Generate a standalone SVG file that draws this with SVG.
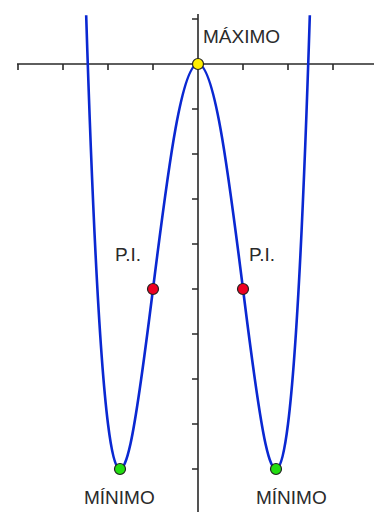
<svg xmlns="http://www.w3.org/2000/svg" width="374" height="512" viewBox="0 0 374 512">
<style>
.axis{stroke:#2a2a2a;stroke-width:1.6;fill:none}
.curve{stroke:#0a28d2;stroke-width:2.6;fill:none;stroke-linejoin:round}
.pt{stroke:#222;stroke-width:1.2}
.lbl{font-family:"Liberation Sans",Arial,sans-serif;font-size:19px;fill:#2a2a2a}
</style>
<rect width="374" height="512" fill="#ffffff"/>
<g id="axes">
<path class="axis" d="M17,64H374M198,14V512"/>
<path class="axis" d="M18,64v6M63,64v6M108,64v6M153,64v6M243,64v6M288,64v6M333,64v6"/>
<path class="axis" d="M192,19h6M192,109h6M192,154h6M192,199h6M192,244h6M192,289h6M192,334h6M192,379h6M192,424h6M192,469h6"/>
</g>
<g id="connectors">
<path id="curve" class="curve" d="M86.175,15.3 C93.45,244.9 100.725,365.8 108,424 C115.5,484 123,477.44 130.5,443.69 C138,409.94 145.5,349 153,289 C160.5,229 168,169.94 175.5,128.69 C183,87.44 190.5,64 198,64 C205.5,64 213,87.44 220.5,128.69 C228,169.94 235.5,229 243,289 C250.5,349 258,409.94 265.5,443.69 C273,477.44 280.5,484 288,424 C295.275,365.8 302.55,244.9 309.825,15.3"/>
</g>
<g id="maximo">
<circle class="pt" cx="198" cy="64" r="5.5" fill="#ffee00"/>
<text class="lbl" x="203" y="43">MÁXIMO</text>
</g>
<g id="pi-left">
<circle class="pt" cx="153" cy="289" r="5.5" fill="#ee0022"/>
<text class="lbl" x="115" y="261">P.I.</text>
</g>
<g id="pi-right">
<circle class="pt" cx="243" cy="289" r="5.5" fill="#ee0022"/>
<text class="lbl" x="249" y="261">P.I.</text>
</g>
<g id="minimo-left">
<circle class="pt" cx="120" cy="469" r="5.5" fill="#22dd11"/>
<text class="lbl" x="84" y="504">MÍNIMO</text>
</g>
<g id="minimo-right">
<circle class="pt" cx="276" cy="469" r="5.5" fill="#22dd11"/>
<text class="lbl" x="256" y="504">MÍNIMO</text>
</g>
</svg>
